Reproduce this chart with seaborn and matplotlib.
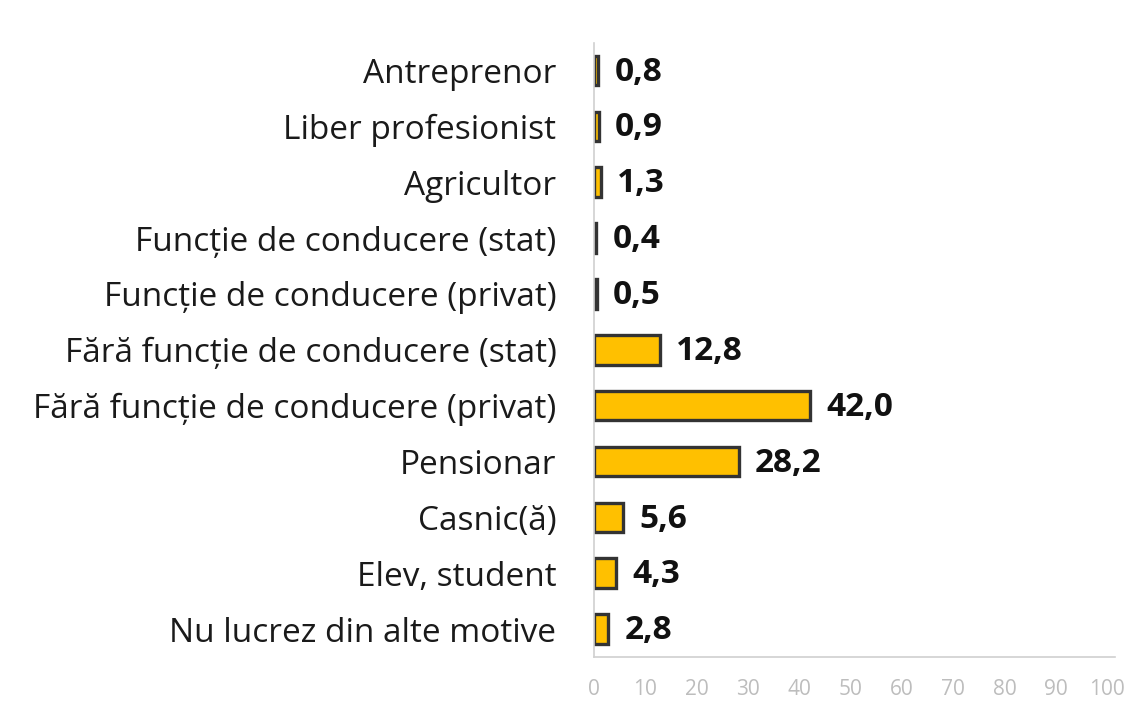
import matplotlib
matplotlib.use("Agg")
import matplotlib.pyplot as plt
import seaborn as sns
import pandas as pd

categories = [
    "Antreprenor",
    "Liber profesionist",
    "Agricultor",
    "Funcție de conducere (stat)",
    "Funcție de conducere (privat)",
    "Fără funcție de conducere (stat)",
    "Fără funcție de conducere (privat)",
    "Pensionar",
    "Casnic(ă)",
    "Elev, student",
    "Nu lucrez din alte motive",
]
values = [0.8, 0.9, 1.3, 0.4, 0.5, 12.8, 42.0, 28.2, 5.6, 4.3, 2.8]
value_labels = ["0,8", "0,9", "1,3", "0,4", "0,5", "12,8", "42,0", "28,2", "5,6", "4,3", "2,8"]
x_ticks = [0, 10, 20, 30, 40, 50, 60, 70, 80, 90, 100]

sns.set_theme(style="white")
plt.rcParams["font.family"] = ["Open Sans", "DejaVu Sans"]

df = pd.DataFrame({"cat": categories, "val": values})

fig = plt.figure(figsize=(11.4, 7.17), dpi=100)
ax = fig.add_axes([0.521, 0.0837, 0.457, 0.857])

sns.barplot(data=df, y="cat", x="val", orient="h", color="#FFC000",
            edgecolor="#333333", linewidth=2.4, width=0.53, saturation=1, ax=ax)

for i, (v, lab) in enumerate(zip(values, value_labels)):
    ax.text(v + 3.2, i + 0.03, lab, va="center", ha="left", fontsize=24,
            fontweight="bold", color="#111111")

ax.set_xlim(0, 101.5)
ax.set_ylim(len(categories) - 0.5, -0.5)
ax.set_xticks(x_ticks)
ax.set_xticklabels([str(t) for t in x_ticks], color="#bdbdbd", fontsize=15)
ax.tick_params(axis="x", length=0, pad=16)
ax.tick_params(axis="y", length=0, pad=27, labelsize=24, labelcolor="#1a1a1a")
ax.set_xlabel("")
ax.set_ylabel("")

for side in ["top", "right"]:
    ax.spines[side].set_visible(False)
ax.spines["left"].set_color("#d0d0d0")
ax.spines["bottom"].set_color("#d0d0d0")
ax.spines["left"].set_linewidth(1.2)
ax.spines["bottom"].set_linewidth(1.2)

fig.savefig("out.png", dpi=100)
